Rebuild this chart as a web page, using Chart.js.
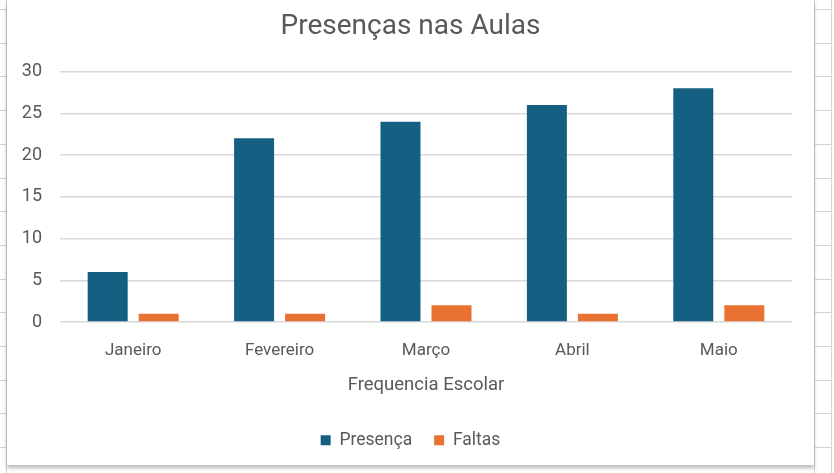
<!DOCTYPE html>
<html>
<head>
<meta charset="utf-8">
<script src="https://cdn.jsdelivr.net/npm/chart.js@4.4.1/dist/chart.umd.min.js"></script>
<style>
  html, body { margin: 0; padding: 0; background: #fff; }
  body { width: 834px; height: 473px; position: relative; overflow: hidden; }
  /* spreadsheet cells peeking out around the chart */
  .cells-left {
    position: absolute; left: 0; top: 0; width: 6px; height: 473px;
    border-right: 1px solid #d4d4d4;
    background: repeating-linear-gradient(to bottom, transparent 0, transparent 9px, #d4d4d4 9px, #d4d4d4 10px, transparent 10px, transparent 33.7px);
  }
  .cells-right {
    position: absolute; left: 814px; top: 0; width: 16px; height: 473px;
    border-left: 1px solid #d4d4d4; border-right: 1px solid #d4d4d4;
    background: repeating-linear-gradient(to bottom, transparent 0, transparent 9px, #d4d4d4 9px, #d4d4d4 10px, transparent 10px, transparent 33.7px);
  }
  #panel {
    position: absolute; left: 7px; top: 0; width: 807px; height: 465px;
    background: #fff; box-shadow: 0 3px 4px rgba(0,0,0,0.28);
  }
</style>
</head>
<body>
<div class="cells-left"></div>
<div class="cells-right"></div>
<div id="panel"><canvas id="chart"></canvas></div>
<script>
// Dados do grafico
var meses = ['Janeiro', 'Fevereiro', 'Março', 'Abril', 'Maio'];
var presenca = [6, 22, 24, 26, 28];
var faltas = [1, 1, 2, 1, 2];
var yTicks = [0, 5, 10, 15, 20, 25, 30];

var textColor = '#595959',
    fontFamily = 'Roboto, "Liberation Sans", sans-serif';

// titulo e legenda centrados no quadro inteiro (como no Excel)
var centerOnPanel = {
    id: 'centerOnPanel',
    afterLayout: function(chart) {
        [chart.titleBlock, chart.legend].forEach(function(box) {
            var shift = chart.width / 2 - (box.left + box.right) / 2;
            box.left += shift;
            box.right += shift;
        });
    }
};

new Chart(document.getElementById('chart'), {
    type: 'bar',
    data: {
        labels: meses,
        datasets: [{
            label: 'Presença',
            data: presenca,
            backgroundColor: '#156082',
            categoryPercentage: 0.697,
            barPercentage: 0.784
        }, {
            label: 'Faltas',
            data: faltas,
            backgroundColor: '#E97132',
            categoryPercentage: 0.697,
            barPercentage: 0.784
        }]
    },
    plugins: [centerOnPanel],
    options: {
        responsive: true,
        maintainAspectRatio: false,
        animation: false,
        layout: {padding: {left: 0, right: 22, top: 0, bottom: 6}},
        plugins: {
            title: {
                display: true,
                text: 'Presenças nas Aulas',
                color: textColor,
                font: {family: fontFamily, size: 28, weight: 'normal'},
                padding: {top: 10, bottom: 28}
            },
            legend: {
                position: 'bottom',
                labels: {
                    color: textColor,
                    font: {family: fontFamily, size: 17.5},
                    boxWidth: 10,
                    boxHeight: 10,
                    padding: 22
                }
            },
            tooltip: {enabled: false}
        },
        scales: {
            x: {
                grid: {display: false, drawTicks: false},
                border: {display: false},
                ticks: {color: textColor, font: {family: fontFamily, size: 17, lineHeight: 1}, padding: 20},
                title: {
                    display: true,
                    text: 'Frequencia Escolar',
                    color: textColor,
                    font: {family: fontFamily, size: 18.5, lineHeight: 1},
                    padding: {top: -3, bottom: 15}
                }
            },
            y: {
                min: 0,
                max: 30,
                afterBuildTicks: function(axis) {
                    axis.ticks = yTicks.map(function(v) {return {value: v};});
                },
                afterFit: function(axis) { axis.width = 53; },
                grid: {color: '#d9d9d9', drawTicks: false, lineWidth: 1.5},
                border: {display: false},
                ticks: {color: textColor, font: {family: fontFamily, size: 18}, padding: 18}
            }
        }
    }
});
</script>
</body>
</html>
